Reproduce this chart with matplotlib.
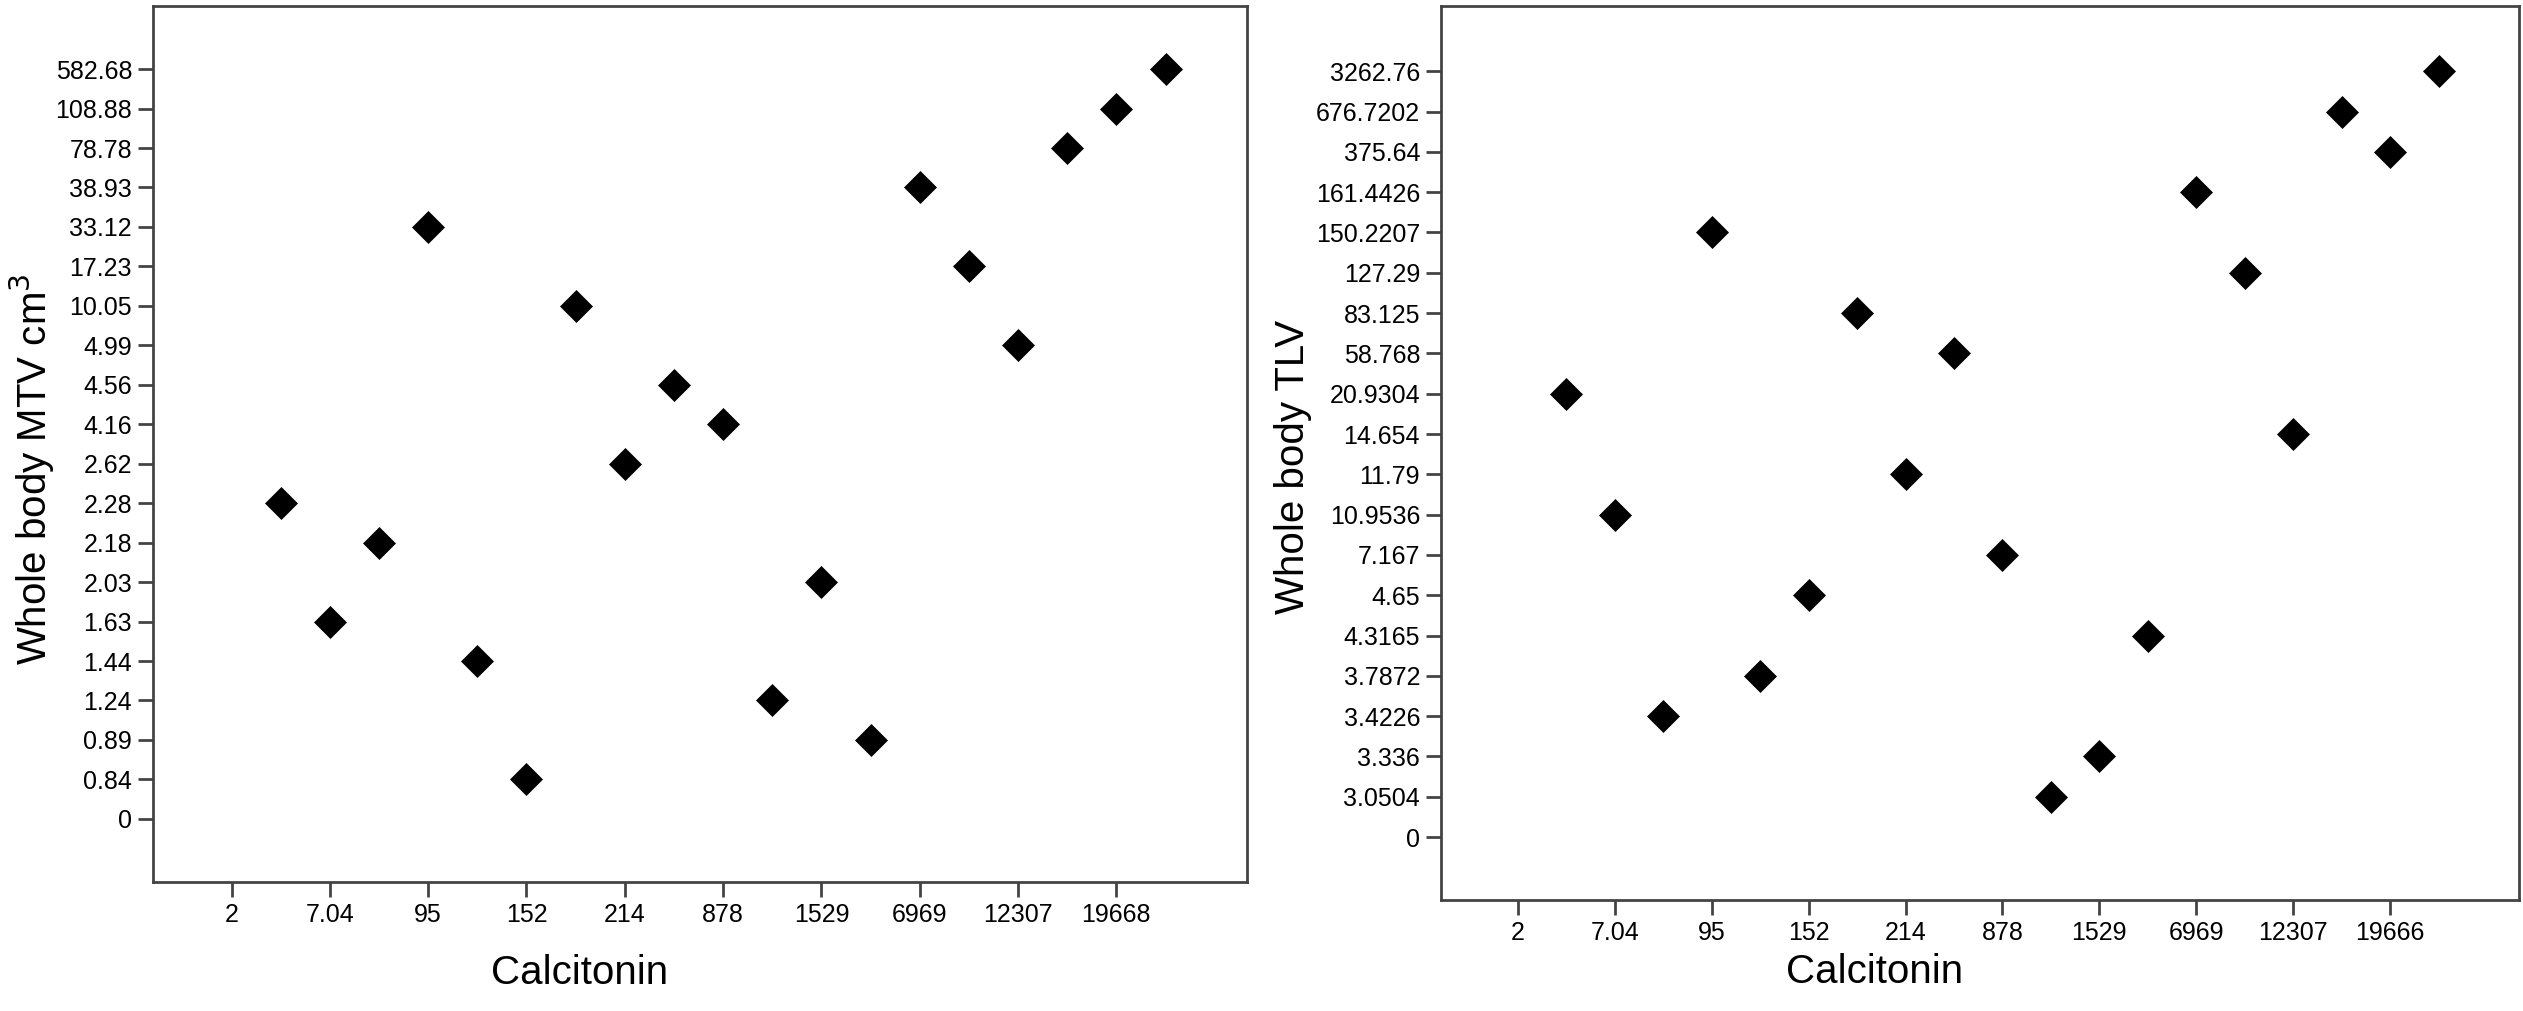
import matplotlib
matplotlib.use("Agg")
import matplotlib.pyplot as plt

plt.rcParams['font.family'] = ['Liberation Sans', 'DejaVu Sans']

# left panel: MTV
mtv_y_labels = ['0', '0.84', '0.89', '1.24', '1.44', '1.63', '2.03', '2.18', '2.28', '2.62',
                '4.16', '4.56', '4.99', '10.05', '17.23', '33.12', '38.93', '78.78', '108.88', '582.68']
mtv_x_labels = ['2', '7.04', '95', '152', '214', '878', '1529', '6969', '12307', '19668']
mtv_x_pos = [1, 2, 3, 4, 5, 6, 7, 8, 9, 10, 11, 12, 13, 14, 15, 16, 17, 18, 19]
mtv_values = ['2.28', '1.63', '2.18', '33.12', '1.44', '0.84', '10.05', '2.62', '4.56', '4.16',
              '1.24', '2.03', '0.89', '38.93', '17.23', '4.99', '78.78', '108.88', '582.68']

# right panel: TLV
tlv_y_labels = ['0', '3.0504', '3.336', '3.4226', '3.7872', '4.3165', '4.65', '7.167', '10.9536', '11.79',
                '14.654', '20.9304', '58.768', '83.125', '127.29', '150.2207', '161.4426', '375.64',
                '676.7202', '3262.76']
tlv_x_labels = ['2', '7.04', '95', '152', '214', '878', '1529', '6969', '12307', '19666']
tlv_x_pos = [1, 2, 3, 4, 5, 6, 7, 8, 9, 10, 11, 12, 13, 14, 15, 16, 17, 18, 19]
tlv_values = ['20.9304', '10.9536', '3.4226', '150.2207', '3.7872', '4.65', '83.125', '11.79', '58.768',
              '7.167', '3.0504', '3.336', '4.3165', '161.4426', '127.29', '14.654', '676.7202', '375.64',
              '3262.76']

label_ticks = [0, 2, 4, 6, 8, 10, 12, 14, 16, 18]

fig = plt.figure(figsize=(25.23, 10.11), dpi=100)
ax1 = fig.add_axes([0.0606, 0.1276, 0.4337, 0.8665])
ax2 = fig.add_axes([0.5711, 0.1098, 0.4273, 0.8843])


def draw(ax, xpos, vals, ylabels, xlabels, ylab, xlim, ylim):
    yidx = [ylabels.index(v) for v in vals]
    ax.plot(xpos, yidx, linestyle='none', marker='D', ms=16.5, color='black', mew=0.5)
    ax.set_yticks(range(len(ylabels)))
    ax.set_yticklabels(ylabels)
    ax.set_xticks(label_ticks)
    ax.set_xticklabels(xlabels)
    ax.set_xlim(*xlim)
    ax.set_ylim(*ylim)
    ax.tick_params(direction='out', length=11, width=2, color='#444444', labelsize=18, pad=4)
    for s in ax.spines.values():
        s.set_linewidth(2)
        s.set_color('#444444')
    ax.set_ylabel(ylab, fontsize=29)
    ax.set_xlabel('Calcitonin', fontsize=29)


draw(ax1, mtv_x_pos, mtv_values, mtv_y_labels, mtv_x_labels, 'Whole body MTV cm$^3$',
     (-1.6, 20.66), (-1.6, 20.6))
draw(ax2, tlv_x_pos, tlv_values, tlv_y_labels, tlv_x_labels, 'Whole body TLV',
     (-1.59, 20.66), (-1.56, 20.62))

ax1.xaxis.set_label_coords(0.39, -0.082)
ax1.yaxis.set_label_coords(-0.088, 0.471)
ax2.xaxis.set_label_coords(0.402, -0.059)
ax2.yaxis.set_label_coords(-0.120, 0.484)

fig.savefig('out.png', dpi=100)
